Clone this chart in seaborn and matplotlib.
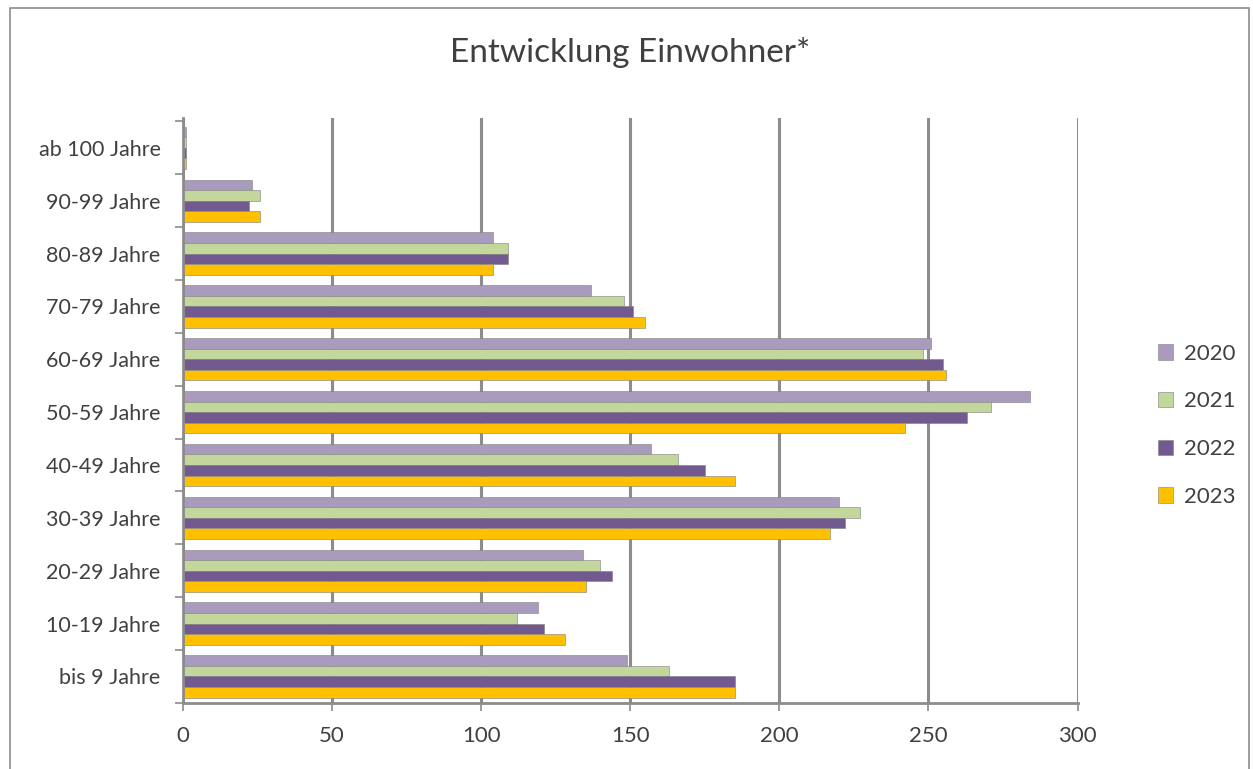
import pandas as pd
import matplotlib.pyplot as plt
import matplotlib.patches as mpatches
import seaborn as sns

# Altersgruppen (von oben nach unten wie im Original)
age_groups = ["ab 100 Jahre", "90-99 Jahre", "80-89 Jahre", "70-79 Jahre", "60-69 Jahre",
              "50-59 Jahre", "40-49 Jahre", "30-39 Jahre", "20-29 Jahre", "10-19 Jahre", "bis 9 Jahre"]
years = ["2020", "2021", "2022", "2023"]

values_2020 = [1, 23, 104, 137, 251, 284, 157, 220, 134, 119, 149]
values_2021 = [1, 26, 109, 148, 248, 271, 166, 227, 140, 112, 163]
values_2022 = [1, 22, 109, 151, 255, 263, 175, 222, 144, 121, 185]
values_2023 = [1, 26, 104, 155, 256, 242, 185, 217, 135, 128, 185]

colors = ["#A99BBD", "#C3D69B", "#725990", "#FFC000"]

rows = []
for year, vals in zip(years, [values_2020, values_2021, values_2022, values_2023]):
    for grp, v in zip(age_groups, vals):
        rows.append({"Altersgruppe": grp, "Jahr": year, "Einwohner": v})
df = pd.DataFrame(rows)

sns.set_theme(style="white")
plt.rcParams['font.family'] = ['Lato', 'DejaVu Sans']
text_color = "#404040"
grid_color = "#8C8C8C"

fig = plt.figure(figsize=(12.53, 7.69), dpi=100)
ax = fig.add_axes([0.146, 0.086, 0.714, 0.761])

sns.barplot(data=df, y="Altersgruppe", x="Einwohner", hue="Jahr", order=age_groups,
            hue_order=years, palette=colors, orient="h", width=0.8,
            edgecolor="#7F7F7F", linewidth=0.4, saturation=1, ax=ax)

ax.set_xlim(0, 300)
ax.set_ylim(10.5, -0.57)
ax.set_xticks([0, 50, 100, 150, 200, 250, 300])
ax.set_xlabel("")
ax.set_ylabel("")

# Gitterlinien
ax.xaxis.grid(True, color=grid_color, linewidth=2.2)
ax.set_axisbelow(True)
for side in ["top", "right"]:
    ax.spines[side].set_visible(False)
for side in ["left", "bottom"]:
    ax.spines[side].set_color(grid_color)
    ax.spines[side].set_linewidth(2)

# Kleine Teilstriche zwischen den Kategorien
ax.set_yticks([i + 0.5 for i in range(-1, len(age_groups))], minor=True)
ax.tick_params(axis="y", which="minor", length=6, width=1.2, color=grid_color, left=True)
ax.tick_params(axis="y", which="major", length=0, pad=16, labelsize=15.5, labelcolor=text_color)
ax.tick_params(axis="x", length=6, width=1.2, color=grid_color, bottom=True, pad=11,
               labelsize=16, labelcolor=text_color)

ax.set_title("Entwicklung Einwohner*", fontsize=24, color=text_color, pad=40)

leg = ax.legend(loc="center left", bbox_to_anchor=(0.908, 0.447), bbox_transform=fig.transFigure,
                frameon=False, fontsize=16, labelcolor=text_color, handlelength=0.7,
                handleheight=0.7, handletextpad=0.5, labelspacing=1.25)

# Rahmen um das Diagramm
fig.patches.append(mpatches.Rectangle((0.008, -0.01), 0.989, 1.0, transform=fig.transFigure,
                                      fill=False, edgecolor="#8C8C8C", linewidth=1.2))

plt.savefig("out.png", dpi=100)
